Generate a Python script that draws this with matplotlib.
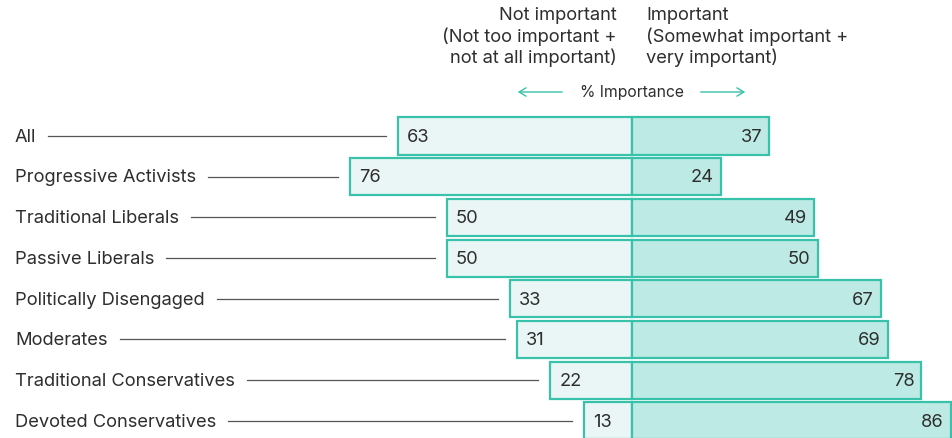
import matplotlib.pyplot as plt
from matplotlib.patches import FancyArrowPatch

groups = ["All", "Progressive Activists", "Traditional Liberals", "Passive Liberals",
          "Politically Disengaged", "Moderates", "Traditional Conservatives",
          "Devoted Conservatives"]
not_important = [63, 76, 50, 50, 33, 31, 22, 13]
important = [37, 24, 49, 50, 67, 69, 78, 86]

edge = "#38c1ab"
left_fill = "#eaf6f5"
right_fill = "#bdeae4"
text_col = "#2e2e2e"

plt.rcParams["font.family"] = ["Inter", "DejaVu Sans"]
fs = 13.2

W, H = 952, 438
fig = plt.figure(figsize=(W / 100, H / 100), dpi=100)
ax = fig.add_axes([0, 0, 1, 1])
ax.set_axis_off()

# px per percentage point ~3.71, zero line at x=632 px
ppu = 3.71
x0 = 632
ax.set_xlim(-x0 / ppu, (W - x0) / ppu)
# rows every 40.7 px, first row center at y=136 px
row = 40.7
y0 = 136
ax.set_ylim((H - y0) / row, -y0 / row)

ys = list(range(len(groups)))
ax.barh(ys, [-v for v in not_important], height=0.91, color=left_fill,
        edgecolor=edge, linewidth=1.6)
ax.barh(ys, important, height=0.91, color=right_fill,
        edgecolor=edge, linewidth=1.6)

fig.canvas.draw()
r = fig.canvas.get_renderer()
inv = ax.transData.inverted()
for y, g, l, rt in zip(ys, groups, not_important, important):
    t = ax.text(15 / W, y + 0.03, g, transform=ax.get_yaxis_transform(), va="center",
                ha="left", fontsize=fs, color=text_col)
    ax.text(-l + 9 / ppu, y + 0.03, str(l), va="center", ha="left", fontsize=fs, color=text_col)
    ax.text(rt - 7 / ppu, y + 0.03, str(rt), va="center", ha="right", fontsize=fs, color=text_col)
    bb = t.get_window_extent(r)
    xs = inv.transform((bb.x1 + 12, 0))[0]
    ax.plot([xs, -l - 12 / ppu], [y, y], color="#555555", lw=0.9)

# header
hdr_y = [16, 37, 58]
left_lines = ["Not important", "(Not too important +", "not at all important)"]
right_lines = ["Important", "(Somewhat important +", "very important)"]
for yy, a, b in zip(hdr_y, left_lines, right_lines):
    fig.text((x0 - 15) / W, 1 - yy / H, a, ha="right", va="center",
             fontsize=fs, color=text_col)
    fig.text((x0 + 14) / W, 1 - yy / H, b, ha="left", va="center",
             fontsize=fs, color=text_col)

fig.text(x0 / W, 1 - 92 / H, "% Importance", ha="center", va="center",
         fontsize=11.3, color=text_col)
ay = 1 - 92 / H
for xa, xb in [(565, 515), (698, 748)]:
    fig.patches.append(FancyArrowPatch((xa / W, ay), (xb / W, ay),
                                       transform=fig.transFigure, arrowstyle="->,head_length=5,head_width=3",
                                       color=edge, lw=1.0))

fig.savefig("out.png", dpi=100)
